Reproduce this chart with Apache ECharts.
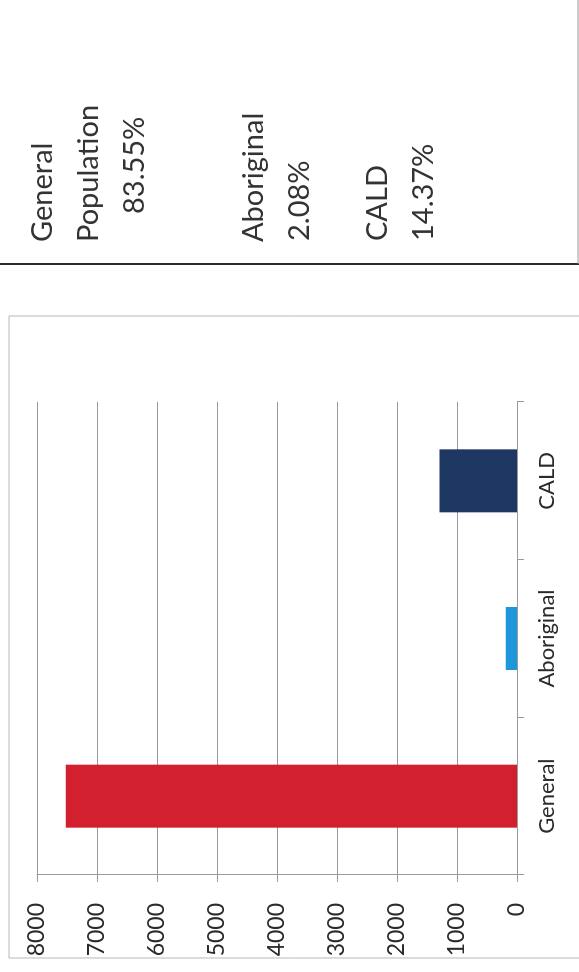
<!DOCTYPE html>
<html>
<head>
<meta charset="utf-8">
<script src="https://cdn.jsdelivr.net/npm/echarts@6/dist/echarts.min.js"></script>
<style>
  html, body { margin: 0; padding: 0; background: #ffffff; overflow: hidden; }
  /* The sheet is laid out landscape and turned a quarter turn anticlockwise */
  #sheet {
    position: absolute; left: 0; top: 0;
    width: 972px; height: 579px;
    transform-origin: 0 0;
    transform: translate(0, 972px) rotate(-90deg);
  }
</style>
</head>
<body>
<div id="sheet"></div>
<script>
// Client counts by population group
const categories = ['General', 'Aboriginal', 'CALD'];
const counts = [7519, 187, 1293];
const barColors = ['#d2202e', '#1e96dc', '#1f3763'];
const valueTicks = { min: 0, max: 8000, interval: 1000 };

// Share of total for each group, shown in the side note
const shareLines = [
  { text: 'General', x: 43, y: 730 },
  { text: 'Population', x: 89, y: 730 },
  { text: '83.55%', x: 135, y: 758 },
  { text: 'Aboriginal', x: 254, y: 730 },
  { text: '2.08%', x: 300, y: 731 },
  { text: 'CALD', x: 378, y: 731 },
  { text: '14.37%', x: 424, y: 731 }
];

const FONT = 'Lato, "Liberation Sans", sans-serif';
const chart = echarts.init(document.getElementById('sheet'), null, { renderer: 'canvas' });

const graphics = [
  // chart frame
  { type: 'rect', shape: { x: 14, y: 9, width: 642, height: 620 },
    style: { fill: 'none', stroke: '#b8b8b8', lineWidth: 1 }, z: -1 },
  // side note border
  { type: 'line', shape: { x1: 708, y1: 0, x2: 708, y2: 579 },
    style: { stroke: '#2a2a2a', lineWidth: 2 } },
  { type: 'line', shape: { x1: 708, y1: 578, x2: 972, y2: 578 },
    style: { stroke: '#9a9a9a', lineWidth: 1 } }
];
shareLines.forEach(l => {
  graphics.push({
    type: 'text',
    x: l.y, y: l.x,
    style: { text: l.text, font: '29px ' + FONT, fill: '#333', textVerticalAlign: 'middle', textAlign: 'left' }
  });
});

chart.setOption({
  animation: false,
  grid: { left: 97, right: 402, top: 37, bottom: 62 },
  xAxis: {
    type: 'category',
    data: categories,
    boundaryGap: true,
    axisLine: { show: true, lineStyle: { color: '#9a9a9a', width: 1 } },
    axisTick: { show: true, length: 7, lineStyle: { color: '#9a9a9a' } },
    axisLabel: { color: '#2a2a2a', fontSize: 22, fontFamily: FONT, margin: 19 }
  },
  yAxis: {
    type: 'value',
    min: valueTicks.min, max: valueTicks.max, interval: valueTicks.interval,
    axisLine: { show: true, lineStyle: { color: '#9a9a9a', width: 1 } },
    axisTick: { show: true, length: 7, lineStyle: { color: '#9a9a9a' } },
    axisLabel: { color: '#2a2a2a', fontSize: 23, fontFamily: FONT, margin: 28,
                 formatter: v => String(v) },
    splitLine: { show: true, lineStyle: { color: '#9a9a9a', width: 1 } }
  },
  series: [{
    type: 'bar',
    data: counts.map((v, i) => ({ value: v, itemStyle: { color: barColors[i] } })),
    barWidth: 63
  }],
  graphic: graphics
});
</script>
</body>
</html>
